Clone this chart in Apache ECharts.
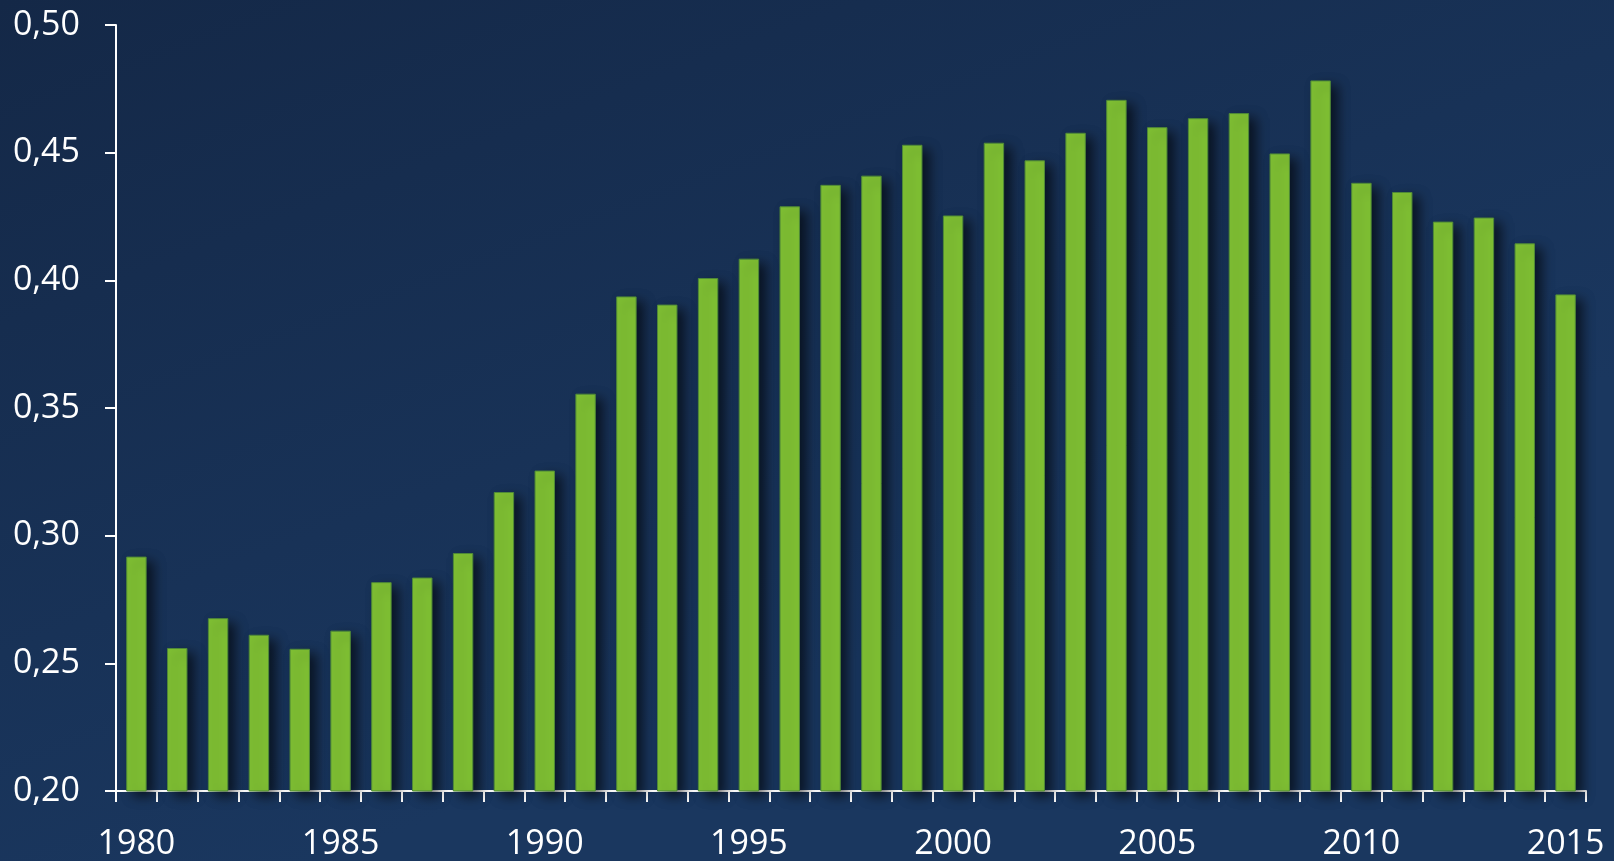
<!DOCTYPE html>
<html>
<head>
<meta charset="utf-8">
<script src="https://cdn.jsdelivr.net/npm/echarts@6/dist/echarts.min.js"></script>
<style>
  html, body { margin: 0; padding: 0; }
  #chart { width: 1614px; height: 861px; }
</style>
</head>
<body>
<div id="chart"></div>
<script>
const years = [];
for (let y = 1980; y <= 2015; y++) years.push(String(y));

const values = [
  0.2918, 0.2560, 0.2677, 0.2612, 0.2557, 0.2628, 0.2818, 0.2836, 0.2932, 0.3171,
  0.3255, 0.3556, 0.3937, 0.3905, 0.4009, 0.4085, 0.4290, 0.4374, 0.4410, 0.4531,
  0.4254, 0.4539, 0.4470, 0.4578, 0.4707, 0.4600, 0.4635, 0.4655, 0.4497, 0.4783,
  0.4382, 0.4346, 0.4230, 0.4246, 0.4145, 0.3945
];

const yMin = 0.20;
const yMax = 0.50;
const yStep = 0.05;

const chart = echarts.init(document.getElementById('chart'));

const labelFont = {
  color: '#ffffff',
  fontFamily: 'Open Sans',
  fontSize: 34
};

chart.setOption({
  animation: false,
  backgroundColor: {
    type: 'linear',
    x: 0, y: 0, x2: 0.2, y2: 1,
    colorStops: [
      { offset: 0, color: '#142847' },
      { offset: 1, color: '#1a375f' }
    ]
  },
  grid: {
    left: 116,
    right: 28,
    top: 25,
    bottom: 67
  },
  xAxis: {
    type: 'category',
    data: years,
    boundaryGap: true,
    axisLine: { lineStyle: { color: '#ffffff', width: 2 } },
    axisTick: {
      show: true,
      interval: 0,
      length: 11,
      lineStyle: { color: '#ffffff', width: 2 }
    },
    axisLabel: Object.assign({ interval: 4, margin: 36 }, labelFont),
    splitLine: { show: false }
  },
  yAxis: {
    type: 'value',
    min: yMin,
    max: yMax,
    interval: yStep,
    axisLine: { show: true, lineStyle: { color: '#ffffff', width: 2 } },
    axisTick: {
      show: true,
      length: 11,
      lineStyle: { color: '#ffffff', width: 2 }
    },
    axisLabel: Object.assign({
      margin: 36,
      formatter: function (v) { return v.toFixed(2).replace('.', ','); }
    }, labelFont),
    splitLine: { show: false }
  },
  series: [
    {
      type: 'bar',
      data: values,
      barWidth: '50%',
      itemStyle: {
        color: '#80c134',
        borderColor: '#4f8a37',
        borderWidth: 1,
        shadowColor: 'rgba(0, 0, 0, 0.6)',
        shadowBlur: 12,
        shadowOffsetX: 7,
        shadowOffsetY: 5
      }
    }
  ]
});
</script>
</body>
</html>
